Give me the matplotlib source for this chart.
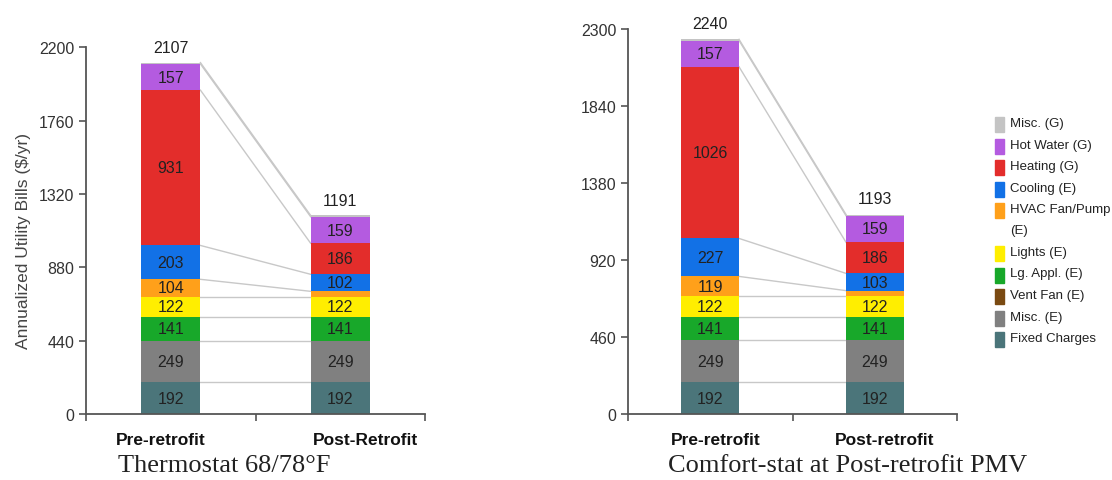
import matplotlib.pyplot as plt
from matplotlib.patches import Rectangle
import numpy as np

plt.rcParams['font.family'] = ['Liberation Sans', 'DejaVu Sans']

# end uses, stacked bottom -> top
uses = ["Fixed Charges", "Misc. (E)", "Vent Fan (E)", "Lg. Appl. (E)", "Lights (E)",
        "HVAC Fan/Pump\n(E)", "Cooling (E)", "Heating (G)", "Hot Water (G)", "Misc. (G)"]
colors = ["#4b757a", "#808080", "#7a4a12", "#18a82a", "#ffee00",
          "#ffa01a", "#1271e6", "#e32d2b", "#b45be0", "#c4c4c4"]

cases = ["Pre-retrofit", "Post-Retrofit"]
cases2 = ["Pre-retrofit", "Post-retrofit"]

# $/yr per end use
thermo_pre = [192, 249, 0, 141, 122, 104, 203, 931, 157, 8]
thermo_post = [192, 249, 0, 141, 122, 32, 102, 186, 159, 8]
comfort_pre = [192, 249, 0, 141, 122, 119, 227, 1026, 157, 7]
comfort_post = [192, 249, 0, 141, 122, 34, 103, 186, 159, 7]

thermo_tot = [2107, 1191]
comfort_tot = [2240, 1193]

fig = plt.figure(figsize=(11.12, 4.81), dpi=100)
ax1 = fig.add_axes([0.0773, 0.137, 0.305, 0.763])
ax2 = fig.add_axes([0.5647, 0.137, 0.296, 0.800])

W = 0.35


def draw(ax, pre, post, tots, ymax, step, names, name_x, title, tx):
    x = np.arange(2)
    data = np.array([pre, post])
    bottoms = np.zeros(2)
    for k in range(len(uses)):
        vals = data[:, k]
        ax.bar(x, vals, W, bottom=bottoms, color=colors[k], linewidth=0)
        for j in range(2):
            if vals[j] >= 60:
                ax.text(x[j], bottoms[j] + vals[j] / 2, str(int(vals[j])),
                        ha='center', va='center', fontsize=11.5, color='#222222')
        bottoms = bottoms + vals
    # connector lines between matching segment tops
    cum_pre = np.cumsum(pre)
    cum_post = np.cumsum(post)
    for k in range(len(uses)):
        if pre[k] == 0 and k > 0 and k < len(uses) - 1:
            continue
        ax.plot([x[0] + W / 2, x[1] - W / 2], [cum_pre[k], cum_post[k]],
                color='#c8c8c8', lw=1, zorder=0)
    for j in range(2):
        ax.text(x[j], tots[j] + ymax * 0.041, str(tots[j]), ha='center',
                va='center', fontsize=11.5, color='#222222')
    ax.set_xlim(-0.5, 1.5)
    ax.set_ylim(0, ymax)
    ax.set_yticks(np.arange(0, ymax + 1, step))
    ax.set_xticks([-0.5, 0.5, 1.5])
    ax.set_xticklabels([])
    for j in range(2):
        ax.text(name_x[j], -150, names[j], ha='center', va='center',
                fontsize=12.5, fontweight='bold', color='#111111')
    ax.text(tx, -51 / (ax.get_position().height * 481), title,
            transform=ax.transAxes, ha='center', va='center', fontsize=19,
            family='Liberation Serif', color='#222222')
    ax.spines['top'].set_visible(False)
    ax.spines['right'].set_visible(False)
    for s in ['left', 'bottom']:
        ax.spines[s].set_color('#555555')
        ax.spines[s].set_linewidth(1.3)
    ax.tick_params(colors='#555555', labelcolor='#333333', labelsize=11.5,
                   length=5, width=1.2)


draw(ax1, thermo_pre, thermo_post, thermo_tot, 2200, 440, cases,
     [-0.06, 1.15], "Thermostat 68/78°F", 0.409)
draw(ax2, comfort_pre, comfort_post, comfort_tot, 2300, 460, cases2,
     [0.035, 1.06], "Comfort-stat at Post-retrofit PMV", 0.666)
ax1.set_ylabel("Annualized Utility Bills ($/yr)", fontsize=12.5, color='#444444')
ax1.yaxis.set_label_coords(-0.162, 0.474)

# legend, top entry first
y = 1 - 125 / 481
for k in range(len(uses) - 1, -1, -1):
    lines = uses[k].count("\n") + 1
    fig.add_artist(Rectangle((995 / 1112, y - 8 / 481), 9 / 1112, 15 / 481,
                             transform=fig.transFigure, color=colors[k]))
    fig.text(1010 / 1112, y + 7 / 481, uses[k], fontsize=9.5, color='#222222',
             va='top', linespacing=2.0)
    y -= 21.5 * lines / 481

fig.savefig("out.png", dpi=100)
